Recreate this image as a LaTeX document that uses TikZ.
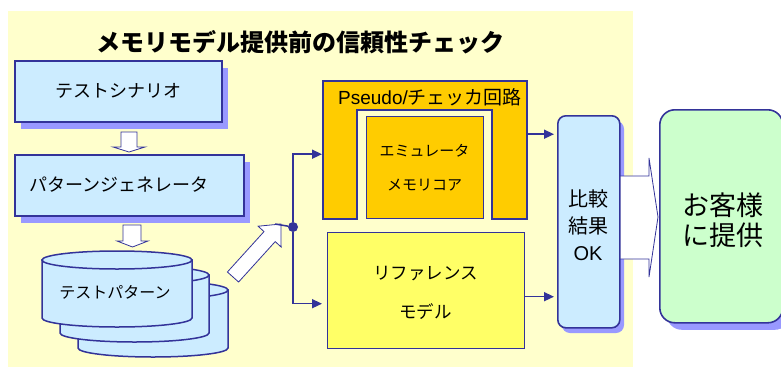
\documentclass[tikz,border=0pt]{standalone}
\usepackage{fontspec}
\setmainfont{Noto Sans CJK JP}
\newfontfamily\latinfont{Liberation Sans}
\usetikzlibrary{arrows.meta,shadows,calc}
\definecolor{navy}{HTML}{333399}
\definecolor{shadowc}{HTML}{9999FF}
\definecolor{lightblue}{HTML}{CCECFF}
\definecolor{bgyellow}{HTML}{FFFFCC}
\definecolor{orangec}{HTML}{FFCC00}
\definecolor{refyellow}{HTML}{FFFF66}
\definecolor{greenc}{HTML}{CCFFCC}
\newcommand\fs[2]{\fontsize{#1pt}{#2pt}\selectfont}
\newcommand\drawcyl[4]{%
  \pgfmathsetmacro\cx{(#1+#2)/2}%
  \pgfmathsetmacro\rx{(#2-#1)/2}%
  \filldraw[cylsty] (#1,#3) -- (#1,#4)
    .. controls (#1,{#4+5}) and ({\cx-0.5523*\rx},{#4+9}) .. (\cx,{#4+9})
    .. controls ({\cx+0.5523*\rx},{#4+9}) and (#2,{#4+5}) .. (#2,#4)
    -- (#2,#3) -- cycle;
  \filldraw[cylsty] (\cx,#3) ellipse [x radius=\rx pt, y radius=9pt];
}
\tikzset{
  cylsty/.style={fill=lightblue, draw=navy, line width=1.5pt},
  bluebox/.style={fill=lightblue, draw=navy, line width=1.6pt, inner sep=0pt,
    drop shadow={shadow xshift=6pt, shadow yshift=-7pt, fill=shadowc, opacity=1}},
  hollow/.style={fill=white, draw=navy, line width=0.8pt, line join=miter},
  conn/.style={draw=navy, line width=1.5pt, -{Triangle[length=10pt,width=9pt]}},
  lbl/.style={inner sep=0pt, align=center, text=black},
}
\begin{document}
\begin{tikzpicture}[x=1pt,y=-1pt]
\useasboundingbox (0,0) rectangle (781,367);
\clip (0,0) rectangle (781,367);
% background
\fill[bgyellow] (8,11) rectangle (633,367);
% title
\node[lbl, font=\fs{24}{28}\bfseries] (title) at (300,42) {メモリモデル提供前の信頼性チェック};
% left column
\node[bluebox, minimum width=207pt, minimum height=61pt, anchor=north west, font=\fs{18}{22}] (scen) at (14,60) {テストシナリオ};
\node[bluebox, minimum width=229pt, minimum height=61pt, anchor=north west] (gen) at (14,154) {};
\node[lbl, font=\fs{18}{22}] (genlbl) at (119,185) {パターンジェネレータ};
% small hollow arrows
\draw[hollow] (121,132) -- (137,132) -- (137,147) -- (145,147) -- (129,152) -- (113,147) -- (121,147) -- cycle;
\draw[hollow] (123,225) -- (141,225) -- (141,241) -- (148,241) -- (132.5,247) -- (117,241) -- (123,241) -- cycle;
% cylinders
\drawcyl{78}{228}{290}{348}
\drawcyl{60}{209}{275}{333}
\drawcyl{42}{192}{260}{318}
\node[lbl, font=\fs{16}{20}] (pat) at (115,292) {テストパターン};
% diagonal hollow arrow
\draw[hollow] (227.4,272) -- (264,231.6) -- (258.1,226.2) -- (281,224) -- (281.1,247) -- (275.2,241.6) -- (238.6,282) -- cycle;
\coordinate (diagtip) at (275,224);
% junction
\node[circle, fill=navy, inner sep=0pt, minimum size=10pt] (dot) at (293,227) {};
\draw[navy, line width=1.5pt] (diagtip) -- (dot);
% pseudo checker
\node[inner sep=0pt, minimum width=204pt, minimum height=138pt, anchor=north west] (pseudo) at (323,81) {};
\filldraw[fill=orangec, draw=navy, line width=1.4pt] (323,81) -- (527,81) -- (527,219) -- (492,219) -- (492,110) -- (357,110) -- (357,219) -- (323,219) -- cycle;
\node[lbl, font=\fs{19}{22}] (pslbl) at (430,97) {{\latinfont Pseudo/}チェッカ回路};
\node[fill=orangec, draw=navy, line width=1.4pt, minimum width=117pt, minimum height=102pt, anchor=north west, inner sep=0pt] (emu) at (366,116) {};
\node[lbl, font=\fs{15}{34}] (emulbl) at (424.5,168) {エミュレータ\\メモリコア};
% reference model
\node[fill=refyellow, draw=navy, line width=1.4pt, minimum width=197pt, minimum height=116pt, anchor=north west, inner sep=0pt] (ref) at (327,232) {};
\node[lbl, font=\fs{17.5}{39}] (reflbl) at (425.5,292.5) {リファレンス\\モデル};
% compare box
\fill[shadowc, rounded corners=8pt] (562,121) rectangle (624,333);
\draw[hollow] (612,176) -- (649,176) -- (649,158) -- (658,217) -- (649,277) -- (649,259) -- (612,259);
\node[fill=lightblue, draw=navy, line width=1.6pt, rounded corners=8pt, minimum width=62pt, minimum height=212pt, anchor=north west, inner sep=0pt] (cmp) at (557,115) {};
\node[lbl, font=\fs{20}{27}] (cmplbl) at (588,225) {比較\\結果\\{\latinfont OK}};
% customer box
\node[fill=greenc, draw=navy, line width=1.6pt, rounded corners=15pt, minimum width=123pt, minimum height=213pt, anchor=north west, inner sep=0pt,
  drop shadow={shadow xshift=7pt, shadow yshift=-7pt, fill=shadowc, opacity=1}] (cust) at (659,109) {};
\node[lbl, font=\fs{27}{30}] (custlbl) at (723,220) {お客様\\に提供};
% connectors
\draw[conn, shorten >=1pt] (dot) |- ([yshift=-4pt]pseudo.west);
\draw[conn, shorten >=5pt] (dot) |- ([yshift=-13pt]ref.west);
\draw[conn, shorten >=3pt] ([yshift=16pt]pseudo.east) -- ([yshift=16pt]pseudo.east -| cmp.west);
\draw[conn, shorten >=3pt] ([yshift=-6pt]ref.east) -- ([yshift=-6pt]ref.east -| cmp.west);
\end{tikzpicture}
\end{document}
